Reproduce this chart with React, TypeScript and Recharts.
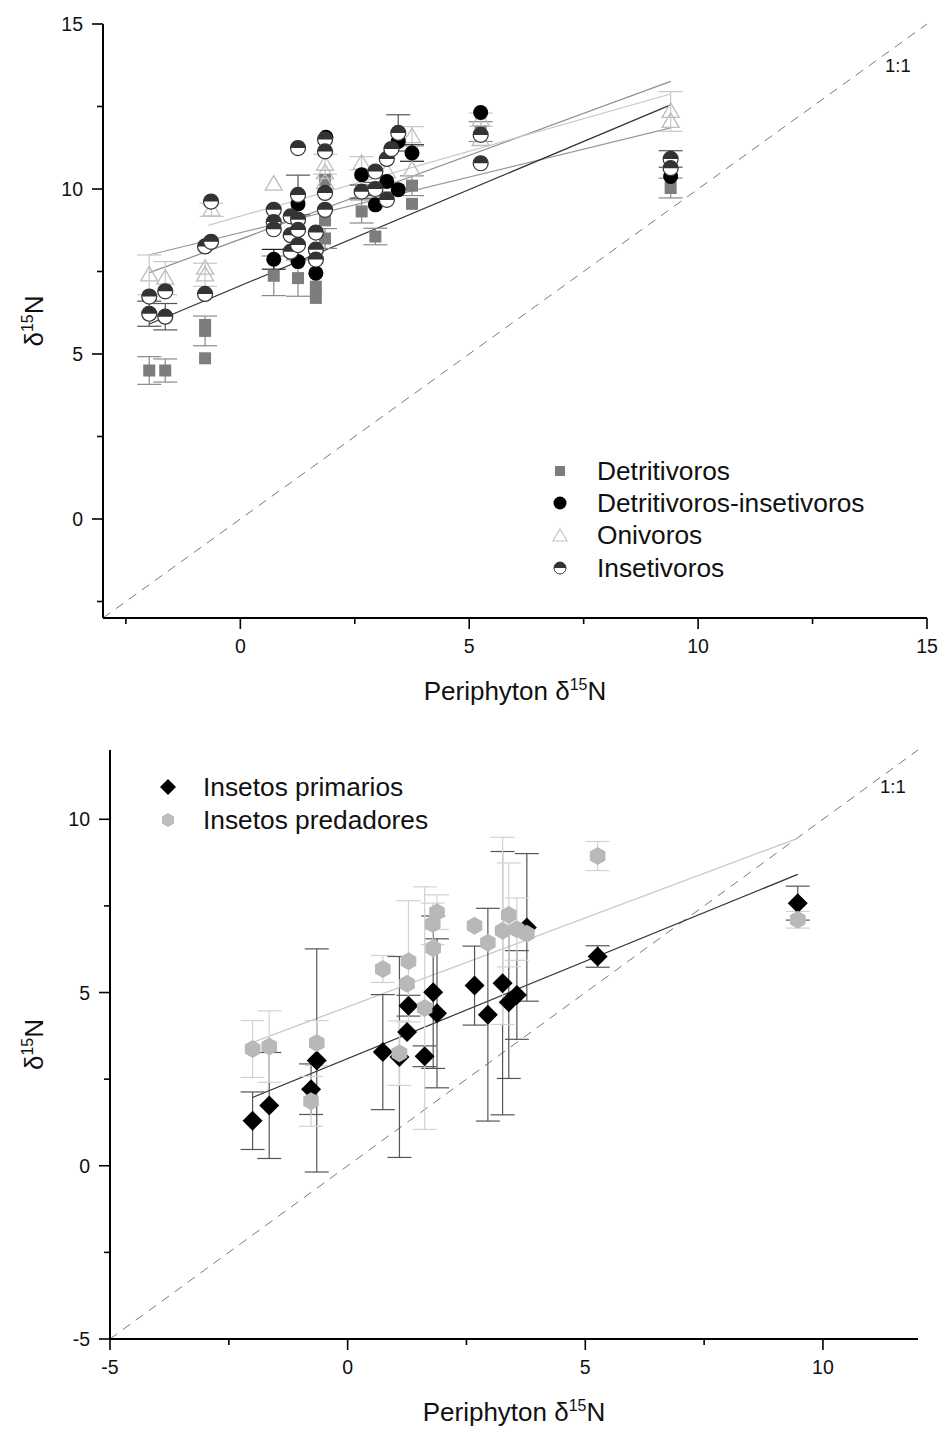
import React from 'react';
import { ScatterChart, Scatter, XAxis, YAxis, ErrorBar, ReferenceLine, Legend, Label } from 'recharts';

const FONT = '"Liberation Sans", Arial, Helvetica, sans-serif';

// ===== Top panel =====
const topXTicks = [-2.5, 0, 2.5, 5, 7.5, 10, 12.5, 15];
const topYTicks = [-2.5, 0, 2.5, 5, 7.5, 10, 12.5, 15];

const detritivorosX = [-1.99, -1.64, -0.77, -0.77, -0.77, 0.73, 1.26, 1.65, 1.65, 1.85, 1.85, 1.85, 2.65, 2.95, 3.2, 3.75, 3.75, 5.25, 9.4];
const detritivorosY = [4.5, 4.5, 4.87, 5.7, 5.88, 7.37, 7.3, 7.04, 6.7, 8.5, 9.05, 10.28, 9.32, 8.56, 9.75, 10.1, 9.55, 11.74, 10.03];
const detritivorosErr = [0.42, 0.35, 0, 0.45, 0, 0.6, 0.55, 0, 0, 0.3, 0, 0, 0.35, 0.25, 0, 0.3, 0, 0.3, 0.3];

const detInsX = [0.73, 1.26, 1.26, 1.65, 1.87, 2.65, 2.95, 3.2, 3.45, 3.45, 3.75, 5.25, 9.4];
const detInsY = [7.87, 7.8, 9.55, 7.45, 11.57, 10.43, 9.52, 10.23, 11.44, 9.98, 11.09, 12.32, 10.38];
const detInsErr = [0.3, 0, 0, 0, 0, 0, 0, 0, 0, 0, 0.25, 0, 0];

const onivorosX = [-1.99, -1.64, -0.77, -0.77, -0.63, 0.73, 1.85, 1.85, 1.85, 2.65, 3.2, 3.75, 3.75, 5.25, 5.25, 9.4, 9.4];
const onivorosY = [7.4, 7.3, 7.4, 7.6, 9.37, 10.15, 10.75, 10.5, 10.2, 10.78, 10.53, 11.59, 10.58, 12.1, 11.5, 12.35, 12.05];
const onivorosErr = [0.6, 0.5, 0.35, 0, 0.2, 0, 0.3, 0, 0, 0.2, 0, 0.3, 0, 0.2, 0, 0.6, 0];

const insetivorosX = [-1.99, -1.99, -1.64, -1.64, -0.77, -0.77, -0.64, -0.64, 0.73, 0.73, 0.73, 1.1, 1.1, 1.1, 1.26, 1.26, 1.26, 1.26, 1.26, 1.65, 1.65, 1.65, 1.85, 1.85, 1.85, 1.85, 2.65, 2.95, 2.95, 3.2, 3.3, 3.2, 3.45, 5.25, 5.25, 9.4, 9.4];
const insetivorosY = [6.74, 6.22, 6.9, 6.13, 8.26, 6.82, 8.4, 9.62, 9.37, 9.0, 8.78, 9.17, 8.6, 8.1, 11.24, 9.82, 9.07, 8.76, 8.3, 8.68, 8.16, 7.86, 11.5, 11.14, 9.88, 9.37, 9.92, 10.53, 10.0, 10.91, 11.21, 9.67, 11.7, 11.64, 10.78, 10.91, 10.63];
const insetivorosErr = [0, 0.38, 0, 0.4, 0, 0, 0, 0, 0, 0, 0, 0, 0, 0, 0, 0.6, 0, 0, 0, 0, 0, 0, 0, 0, 0, 0, 0.2, 0, 0.2, 0, 0, 0, 0.55, 0, 0, 0.25, 0];

const topFitDark = [{ x: -2, y: 5.9 }, { x: 9.4, y: 12.55 }];
const topFitGrayA = [{ x: -2, y: 7.46 }, { x: 9.4, y: 13.26 }];
const topFitLight = [{ x: -0.7, y: 8.9 }, { x: 9.4, y: 12.88 }];
const topFitGrayB = [{ x: -2, y: 8.0 }, { x: 9.4, y: 11.85 }];
const topOneToOne = [{ x: -3, y: -3 }, { x: 15, y: 15 }];

// ===== Bottom panel =====
const botXTicks = [-5, -2.5, 0, 2.5, 5, 7.5, 10];
const botYTicks = [-5, -2.5, 0, 2.5, 5, 7.5, 10];

const primariosX = [-2.0, -1.65, -0.77, -0.65, 0.74, 1.09, 1.25, 1.28, 1.62, 1.8, 1.88, 2.67, 2.95, 3.26, 3.39, 3.56, 3.77, 5.26, 9.47];
const primariosY = [1.3, 1.74, 2.21, 3.04, 3.28, 3.14, 3.86, 4.62, 3.16, 5.01, 4.4, 5.2, 4.36, 5.27, 4.72, 4.93, 6.88, 6.04, 7.58];
const primariosErr = [0.83, 1.53, 0.73, 3.22, 1.66, 2.9, 0, 0.3, 0.3, 2.2, 2.15, 1.14, 3.07, 3.8, 2.2, 1.28, 2.13, 0.31, 0.49];

const predadoresX = [-2.0, -1.65, -0.77, -0.65, 0.74, 1.09, 1.25, 1.28, 1.62, 1.79, 1.8, 1.88, 2.67, 2.95, 3.26, 3.39, 3.56, 3.77, 5.26, 9.47];
const predadoresY = [3.37, 3.44, 1.86, 3.54, 5.68, 3.25, 5.25, 5.9, 4.55, 6.98, 6.28, 7.32, 6.93, 6.44, 6.78, 7.24, 6.83, 6.7, 8.94, 7.1];
const predadoresErr = [0.82, 1.03, 0.72, 0.65, 0.39, 0.93, 0, 1.75, 3.5, 0.6, 0, 0.5, 0, 0, 2.7, 1.5, 0.9, 0, 0.42, 0.24];

const botFitPrimarios = [{ x: -2, y: 1.97 }, { x: 9.47, y: 8.41 }];
const botFitPredadores = [{ x: -2, y: 3.56 }, { x: 9.47, y: 9.45 }];
const botOneToOne = [{ x: -5, y: -5 }, { x: 12, y: 12 }];

const rows = (xs: number[], ys: number[], es: number[]) =>
  xs.map((x, i) => ({ x, y: ys[i], err: es[i] ? es[i] : undefined }));

const isMajor = (v: number) => Math.abs(v / 5 - Math.round(v / 5)) < 1e-6;
const TICK_FONT = 19.5;

const BottomTick = (p: any) => {
  const major = isMajor(p.payload.value);
  return (
    <g>
      <line x1={p.x} y1={p.y} x2={p.x} y2={p.y + (major ? 11 : 6)} stroke="#000" strokeWidth={1.6} />
      {major && (
        <text x={p.x} y={p.y + 35} textAnchor="middle" fontSize={TICK_FONT} fontFamily={FONT} fill="#111">
          {p.payload.value}
        </text>
      )}
    </g>
  );
};
const TopTick = (p: any) => {
  const major = isMajor(p.payload.value);
  return <line x1={p.x} y1={p.y} x2={p.x} y2={p.y + (major ? 11 : 6)} stroke="#000" strokeWidth={1.6} />;
};
const LeftTick = (p: any) => {
  const major = isMajor(p.payload.value);
  return (
    <g>
      <line x1={p.x - (major ? 11 : 6)} y1={p.y} x2={p.x} y2={p.y} stroke="#000" strokeWidth={1.6} />
      {major && (
        <text x={p.x - 20} y={p.y + 7} textAnchor="end" fontSize={TICK_FONT} fontFamily={FONT} fill="#111">
          {p.payload.value}
        </text>
      )}
    </g>
  );
};
const RightTick = (p: any) => {
  const major = isMajor(p.payload.value);
  return <line x1={p.x - (major ? 11 : 6)} y1={p.y} x2={p.x} y2={p.y} stroke="#000" strokeWidth={1.6} />;
};

// marker shapes
const SquareShape = (p: any) => <rect x={p.cx - 6} y={p.cy - 6} width={12} height={12} fill="#7d7d7d" />;
const DotShape = (p: any) => <circle cx={p.cx} cy={p.cy} r={7.5} fill="#000" />;
const TriShape = (p: any) => (
  <path d={`M${p.cx},${p.cy - 8.5} L${p.cx + 8.5},${p.cy + 6} L${p.cx - 8.5},${p.cy + 6} Z`} fill="none" stroke="#bdbdbd" strokeWidth={1.3} />
);
const HalfShape = (p: any) => {
  const r = 7.5;
  return (
    <g>
      <circle cx={p.cx} cy={p.cy} r={r} fill="#fff" stroke="#333" strokeWidth={1.2} />
      <path d={`M${p.cx - r},${p.cy} A${r},${r} 0 0 1 ${p.cx + r},${p.cy} Z`} fill="#333" />
    </g>
  );
};
const DiamondShape = (p: any) => (
  <path d={`M${p.cx},${p.cy - 10} L${p.cx + 10},${p.cy} L${p.cx},${p.cy + 10} L${p.cx - 10},${p.cy} Z`} fill="#000" />
);
const hexPath = (cx: number, cy: number, r: number) => {
  const pts = [0, 1, 2, 3, 4, 5].map((k) => {
    const a = (Math.PI / 3) * k + Math.PI / 6;
    return `${cx + r * Math.cos(a)},${cy + r * Math.sin(a)}`;
  });
  return `M${pts.join(' L')} Z`;
};
const HexShape = (p: any) => <path d={hexPath(p.cx, p.cy, 9)} fill="#b8b8b8" />;

const LegendText = ({ children }: any) => (
  <span style={{ fontFamily: FONT, fontSize: 26.3, color: '#111', whiteSpace: 'nowrap' }}>{children}</span>
);

const TopLegend = () => {
  const items: [React.ReactNode, string][] = [
    [<rect x={13} y={11} width={10} height={10} fill="#7d7d7d" />, 'Detritivoros'],
    [<circle cx={18} cy={16} r={6.5} fill="#000" />, 'Detritivoros-insetivoros'],
    [<path d="M18,9 L25,21 L11,21 Z" fill="none" stroke="#c4c4c4" strokeWidth={1.2} />, 'Onivoros'],
    [
      <g>
        <circle cx={18} cy={16} r={6} fill="#fff" stroke="#333" strokeWidth={1} />
        <path d="M12,16 A6,6 0 0 1 24,16 Z" fill="#333" />
      </g>,
      'Insetivoros',
    ],
  ];
  return (
    <div>
      {items.map(([icon, label], i) => (
        <div key={i} style={{ display: 'flex', alignItems: 'center', height: 32.3 }}>
          <svg width={55} height={32} style={{ flex: 'none' }}>{icon}</svg>
          <LegendText>{label}</LegendText>
        </div>
      ))}
    </div>
  );
};

const BottomLegend = () => {
  const items: [React.ReactNode, string][] = [
    [<path d="M18,8 L26,16 L18,24 L10,16 Z" fill="#000" />, 'Insetos primarios'],
    [<path d={hexPath(18, 16, 7)} fill="#bdbdbd" />, 'Insetos predadores'],
  ];
  return (
    <div>
      {items.map(([icon, label], i) => (
        <div key={i} style={{ display: 'flex', alignItems: 'center', height: 33 }}>
          <svg width={53} height={32} style={{ flex: 'none' }}>{icon}</svg>
          <LegendText>{label}</LegendText>
        </div>
      ))}
    </div>
  );
};

const YTitle = (props: any) => {
  const vb = props.viewBox;
  const cx = 43;
  const cy = vb.y + vb.height / 2;
  return (
    <text transform={`translate(${cx},${cy}) rotate(-90)`} textAnchor="middle" fontSize={26} fontFamily={FONT} fill="#111">
      δ<tspan dy={-10} fontSize={16}>15</tspan>
      <tspan dy={10}>N</tspan>
    </text>
  );
};
const XTitle = (props: any) => {
  const vb = props.viewBox;
  const cx = vb.x + vb.width / 2;
  return (
    <text x={cx} y={vb.y + 82} textAnchor="middle" fontSize={26} fontFamily={FONT} fill="#111">
      Periphyton δ<tspan dy={-10} fontSize={16}>15</tspan>
      <tspan dy={10}>N</tspan>
    </text>
  );
};

const axisLine = { stroke: '#000', strokeWidth: 2 };

function TopChart() {
  return (
    <ScatterChart width={940} height={720} margin={{ top: 24, right: 13, left: 43, bottom: 42 }}>
      <XAxis dataKey="x" type="number" domain={[-3, 15]} ticks={topXTicks} interval={0} allowDataOverflow
        height={60} tickSize={0} tickMargin={0} tickLine={false} tick={<BottomTick />} axisLine={axisLine}>
        <Label content={<XTitle />} />
      </XAxis>
      <XAxis xAxisId="top" orientation="top" type="number" domain={[-3, 15]} ticks={topXTicks} interval={0} allowDataOverflow
        height={0} tickSize={0} tickMargin={0} tickLine={false} tick={<TopTick />} axisLine={axisLine} />
      <YAxis dataKey="y" type="number" domain={[-3, 15]} ticks={topYTicks} interval={0} allowDataOverflow
        width={60} tickSize={0} tickMargin={0} tickLine={false} tick={<LeftTick />} axisLine={axisLine}>
        <Label content={<YTitle />} />
      </YAxis>
      <YAxis yAxisId="right" orientation="right" type="number" domain={[-3, 15]} ticks={topYTicks} interval={0} allowDataOverflow
        width={0} tickSize={0} tickMargin={0} tickLine={false} tick={<RightTick />} axisLine={axisLine} />

      <ReferenceLine segment={topOneToOne} stroke="#7a7a7a" strokeDasharray="9 7" strokeWidth={1} />
      <ReferenceLine segment={topFitGrayA} stroke="#8f8f8f" strokeWidth={1.2} />
      <ReferenceLine segment={topFitLight} stroke="#c8c8c8" strokeWidth={1.2} />
      <ReferenceLine segment={topFitGrayB} stroke="#999" strokeWidth={1.2} />
      <ReferenceLine segment={topFitDark} stroke="#333" strokeWidth={1.2} />

      <Scatter name="Detritivoros" data={rows(detritivorosX, detritivorosY, detritivorosErr)} shape={SquareShape} isAnimationActive={false}>
        <ErrorBar dataKey="err" direction="y" width={12} stroke="#8a8a8a" strokeWidth={1.2} />
      </Scatter>
      <Scatter name="Onivoros" data={rows(onivorosX, onivorosY, onivorosErr)} shape={TriShape} isAnimationActive={false}>
        <ErrorBar dataKey="err" direction="y" width={12} stroke="#c8c8c8" strokeWidth={1.2} />
      </Scatter>
      <Scatter name="Detritivoros-insetivoros" data={rows(detInsX, detInsY, detInsErr)} shape={DotShape} isAnimationActive={false}>
        <ErrorBar dataKey="err" direction="y" width={12} stroke="#222" strokeWidth={1.2} />
      </Scatter>
      <Scatter name="Insetivoros" data={rows(insetivorosX, insetivorosY, insetivorosErr)} shape={HalfShape} isAnimationActive={false}>
        <ErrorBar dataKey="err" direction="y" width={12} stroke="#555" strokeWidth={1.2} />
      </Scatter>

      <Legend layout="vertical" align="center" verticalAlign="middle" content={<TopLegend />}
        wrapperStyle={{ left: 542, top: 455, width: 380, height: 135 }} />
    </ScatterChart>
  );
}

function BottomChart() {
  return (
    <ScatterChart width={940} height={709} margin={{ top: 30, right: 22, left: 50, bottom: 30 }}>
      <XAxis dataKey="x" type="number" domain={[-5, 12]} ticks={botXTicks} interval={0} allowDataOverflow
        height={60} tickSize={0} tickMargin={0} tickLine={false} tick={<BottomTick />} axisLine={axisLine}>
        <Label content={<XTitle />} />
      </XAxis>
      <XAxis xAxisId="top" orientation="top" type="number" domain={[-5, 12]} ticks={botXTicks} interval={0} allowDataOverflow
        height={0} tickSize={0} tickMargin={0} tickLine={false} tick={<TopTick />} axisLine={axisLine} />
      <YAxis dataKey="y" type="number" domain={[-5, 12]} ticks={botYTicks} interval={0} allowDataOverflow
        width={60} tickSize={0} tickMargin={0} tickLine={false} tick={<LeftTick />} axisLine={axisLine}>
        <Label content={<YTitle />} />
      </YAxis>
      <YAxis yAxisId="right" orientation="right" type="number" domain={[-5, 12]} ticks={botYTicks} interval={0} allowDataOverflow
        width={0} tickSize={0} tickMargin={0} tickLine={false} tick={<RightTick />} axisLine={axisLine} />

      <ReferenceLine segment={botOneToOne} stroke="#7a7a7a" strokeDasharray="9 7" strokeWidth={1} />
      <ReferenceLine segment={botFitPredadores} stroke="#c4c4c4" strokeWidth={1.2} />
      <ReferenceLine segment={botFitPrimarios} stroke="#333" strokeWidth={1.2} />

      <Scatter name="Insetos primarios" data={rows(primariosX, primariosY, primariosErr)} shape={DiamondShape} isAnimationActive={false}>
        <ErrorBar dataKey="err" direction="y" width={12} stroke="#555" strokeWidth={1.2} />
      </Scatter>
      <Scatter name="Insetos predadores" data={rows(predadoresX, predadoresY, predadoresErr)} shape={HexShape} isAnimationActive={false}>
        <ErrorBar dataKey="err" direction="y" width={12} stroke="#d2d2d2" strokeWidth={1.2} />
      </Scatter>

      <Legend layout="vertical" align="center" verticalAlign="middle" content={<BottomLegend />}
        wrapperStyle={{ left: 150, top: 50.5, width: 320, height: 70 }} />
    </ScatterChart>
  );
}

export default function App() {
  return (
    <div style={{ position: 'absolute', left: 0, top: 0, width: 940, height: 1429, background: '#fff' }}>
      <div style={{ position: 'absolute', left: 0, top: 0 }}>
        <TopChart />
      </div>
      <div style={{ position: 'absolute', left: 0, top: 720 }}>
        <BottomChart />
      </div>
      <div style={{ position: 'absolute', left: 885, top: 55, fontFamily: FONT, fontSize: 18.5, color: '#111' }}>1:1</div>
      <div style={{ position: 'absolute', left: 880, top: 776, fontFamily: FONT, fontSize: 18.5, color: '#111' }}>1:1</div>
    </div>
  );
}
